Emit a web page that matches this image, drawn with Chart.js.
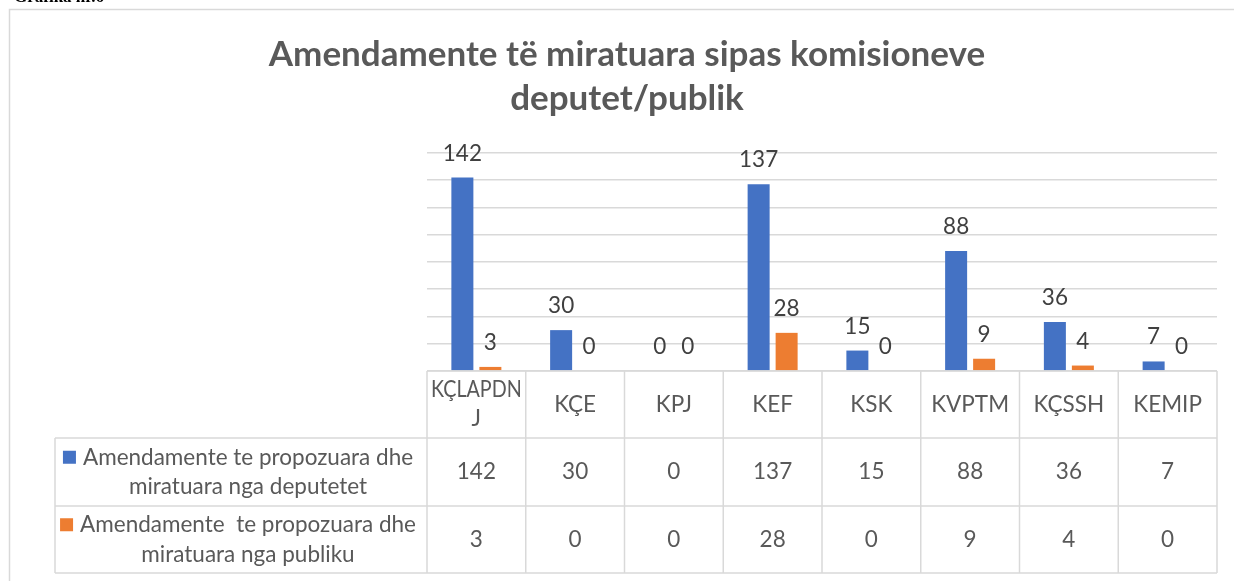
<!DOCTYPE html>
<html>
<head>
<meta charset="utf-8">
<script src="https://cdn.jsdelivr.net/npm/chart.js@4/dist/chart.umd.min.js"></script>
<style>
  html, body { margin: 0; padding: 0; background: #fff; }
  #wrap { position: relative; width: 1234px; height: 581px; }
</style>
</head>
<body>
<div id="wrap"><canvas id="chart" width="1234" height="581"></canvas></div>
<script>
// Data
const pageCaption = 'Grafika nr.6';
const chartTitle = ['Amendamente të miratuara sipas komisioneve', 'deputet/publik'];
const committees = ['KÇLAPDNJ', 'KÇE', 'KPJ', 'KEF', 'KSK', 'KVPTM', 'KÇSSH', 'KEMIP'];
const seriesNames = [
    ['Amendamente te propozuara dhe', 'miratuara nga deputetet'],
    ['Amendamente  te propozuara dhe', 'miratuara nga publiku']
];
const fromDeputies = [142, 30, 0, 137, 15, 88, 36, 7];
const fromPublic = [3, 0, 0, 28, 0, 9, 4, 0];
const seriesColors = ['#4472C4', '#ED7D31'];
const yMax = 160;
const yStep = 20;

// Styles
const gridColor = '#d9d9d9';
const textColor = '#595959';
const labelColor = '#404040';
const fontFamily = 'Lato, "Open Sans", sans-serif';

// Wrap Header Text By Characters
const wrapChars = function (ctx, text, maxWidth) {
    const lines = [];
    let line = '';
    for (const ch of text) {
        if (line && ctx.measureText(line + ch).width > maxWidth) {
            lines.push(line);
            line = ch;
        } else {
            line += ch;
        }
    }
    if (line) { lines.push(line); }
    return lines;
};

// Frame, Labels And Data Table
const tablePlugin = {
    id: 'tablePlugin',

    beforeDraw: function (chart) {
        const ctx = chart.ctx;
        ctx.save();

        // Background
        ctx.fillStyle = '#fff';
        ctx.fillRect(0, 0, chart.width, chart.height);

        // Page caption (cut at the top)
        ctx.fillStyle = '#000';
        ctx.font = 'bold 17px "Liberation Serif", serif';
        ctx.textBaseline = 'alphabetic';
        ctx.textAlign = 'left';
        ctx.fillText(pageCaption, 14, 2);

        // Outer frame
        ctx.strokeStyle = gridColor;
        ctx.lineWidth = 1.5;
        ctx.beginPath();
        ctx.moveTo(9.5, chart.height);
        ctx.lineTo(9.5, 9.5);
        ctx.lineTo(chart.width, 9.5);
        ctx.stroke();

        ctx.restore();
    },

    afterDatasetsDraw: function (chart) {
        const ctx = chart.ctx;
        ctx.save();

        // Bar Labels
        ctx.fillStyle = labelColor;
        ctx.font = '22.5px ' + fontFamily;
        ctx.textAlign = 'center';
        ctx.textBaseline = 'alphabetic';
        chart.data.datasets.forEach(function (ds, d) {
            const meta = chart.getDatasetMeta(d);
            meta.data.forEach(function (bar, i) {
                ctx.fillText(String(ds.data[i]), bar.x, bar.y - 17);
            });
        });

        // Table geometry
        const xs = chart.scales.x;
        const area = chart.chartArea;
        const n = committees.length;
        const edges = [];
        for (let i = 0; i <= n; i++) {
            if (i === 0) { edges.push(area.left); }
            else if (i === n) { edges.push(area.right); }
            else { edges.push((xs.getPixelForValue(i - 1) + xs.getPixelForValue(i)) / 2); }
        }
        const tableLeft = 55;
        const rows = [area.bottom, area.bottom + 67, area.bottom + 135, area.bottom + 202];

        // Table lines
        ctx.strokeStyle = gridColor;
        ctx.lineWidth = 1.5;
        ctx.beginPath();
        ctx.moveTo(edges[0], rows[0]);
        ctx.lineTo(edges[n], rows[0]);
        for (let r = 1; r < rows.length; r++) {
            ctx.moveTo(tableLeft, rows[r]);
            ctx.lineTo(edges[n], rows[r]);
        }
        for (let i = 0; i <= n; i++) {
            ctx.moveTo(edges[i], rows[0]);
            ctx.lineTo(edges[i], rows[3]);
        }
        ctx.moveTo(tableLeft, rows[1]);
        ctx.lineTo(tableLeft, rows[3]);
        ctx.stroke();

        // Header
        ctx.fillStyle = textColor;
        ctx.font = '22.5px ' + fontFamily;
        ctx.textBaseline = 'middle';
        ctx.textAlign = 'center';
        for (let i = 0; i < n; i++) {
            const cx = (edges[i] + edges[i + 1]) / 2;
            const cellW = edges[i + 1] - edges[i];
            const lines = wrapChars(ctx, committees[i], cellW + 5);
            const mid = (rows[0] + rows[1]) / 2;
            lines.forEach(function (line, k) {
                ctx.fillText(line, cx, mid + (k - (lines.length - 1) / 2) * 29, cellW - 8);
            });
        }

        // Rows
        const series = [fromDeputies, fromPublic];
        series.forEach(function (values, s) {
            const mid = (rows[s + 1] + rows[s + 2]) / 2;

            // Values
            ctx.textAlign = 'center';
            for (let i = 0; i < n; i++) {
                ctx.fillText(String(values[i]), (edges[i] + edges[i + 1]) / 2, mid);
            }

            // Legend key and name
            const names = seriesNames[s];
            const textCenter = 248;
            names.forEach(function (line, k) {
                const y = mid + (k - 0.5) * 29.5;
                ctx.fillText(line, textCenter, y);
                if (k === 0) {
                    const w = ctx.measureText(line).width;
                    ctx.fillStyle = seriesColors[s];
                    ctx.fillRect(textCenter - w / 2 - 20, y - 6.5, 13, 13);
                    ctx.fillStyle = textColor;
                }
            });
        });

        ctx.restore();
    }
};

// Create Chart
const ctx = document.getElementById('chart').getContext('2d');
new Chart(ctx, {
    type: 'bar',
    data: {
        labels: committees,
        datasets: [
            {
                label: seriesNames[0].join(' '),
                data: fromDeputies,
                backgroundColor: seriesColors[0],
                barPercentage: 0.786,
                categoryPercentage: 0.567
            },
            {
                label: seriesNames[1].join(' '),
                data: fromPublic,
                backgroundColor: seriesColors[1],
                barPercentage: 0.786,
                categoryPercentage: 0.567
            }
        ]
    },
    options: {
        responsive: false,
        animation: false,
        devicePixelRatio: 1,
        events: [],
        layout: { padding: { left: 37, right: 17, top: 0, bottom: 210 } },
        plugins: {
            legend: { display: false },
            tooltip: { enabled: false },
            title: {
                display: true,
                text: chartTitle,
                color: textColor,
                font: { family: fontFamily, size: 35, weight: 'bold', lineHeight: 1.257 },
                padding: { top: 33, bottom: 32 }
            }
        },
        scales: {
            x: {
                display: false
            },
            y: {
                min: 0,
                max: yMax,
                ticks: { display: false, stepSize: yStep },
                grid: { color: gridColor, lineWidth: 1.5, drawTicks: false },
                border: { display: false },
                afterFit: function (scale) { scale.width = 390; }
            }
        }
    },
    plugins: [tablePlugin]
});
</script>
</body>
</html>
